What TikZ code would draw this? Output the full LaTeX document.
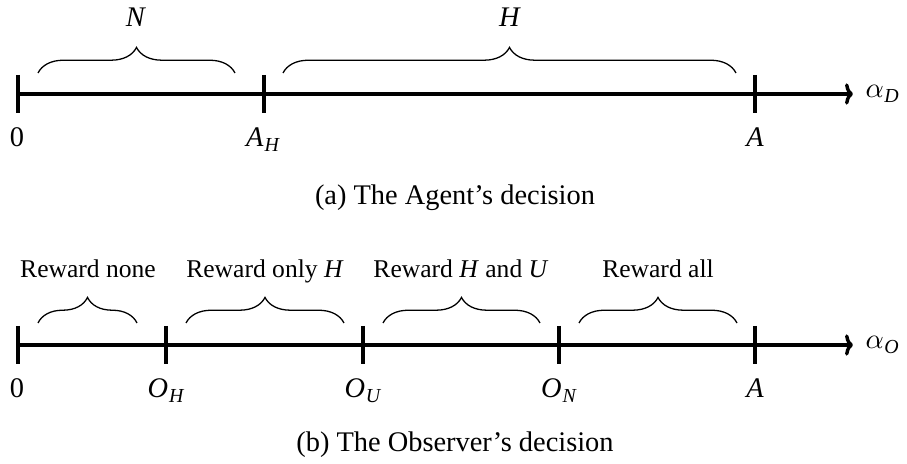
\documentclass[tikz,border=0pt]{standalone}
\usepackage{fontspec}
\setmainfont{Liberation Serif}
\usetikzlibrary{decorations.pathreplacing,arrows.meta}
\newcommand\mvar[2]{\textit{#1}\kern0.3pt\raisebox{-1.7pt}{\scriptsize\textit{#2}}}
\newcommand\avar[1]{$\alpha$\kern0.2pt\raisebox{-1.7pt}{\scriptsize\textit{#1}}}
\begin{document}
\begin{tikzpicture}[x=0.3521pt,y=-0.3521pt,
  axisline/.style={line width=1.2pt,-{To[length=2.8pt,width=7.5pt]}},
  tickline/.style={line width=1.2pt},
  brc/.style={decorate,decoration={brace,amplitude=9pt},line width=0.45pt},
  lab/.style={anchor=base,inner sep=0pt},
  small/.style={anchor=base,inner sep=0pt,font=\small},
  axlab/.style={anchor=base west,inner sep=0pt}]
\useasboundingbox (0,0) rectangle (907,464);
% ---------- (a) ----------
\coordinate (a0) at (18,94);
\coordinate (aend) at (853,94);
\draw[axisline] (a0) -- (aend);
\node[axlab] (alphaD) at (865,98) {\avar{D}};
\foreach \n/\x in {a0t/18,aAHt/264,aAt/755}{
  \coordinate (\n top) at (\x,75);
  \coordinate (\n bot) at (\x,113);
  \draw[tickline] (\n top) -- (\n bot);
}
\node[lab] (l0a) at (17,147) {0};
\node[lab] (lAH) at (263,147) {\mvar{A}{H}};
\node[lab] (lAa) at (755,147) {\textit{A}};
\coordinate (bN1) at (38,73);  \coordinate (bN2) at (235,73);
\coordinate (bH1) at (283,73); \coordinate (bH2) at (736,73);
\draw[brc] (bN1) -- (bN2);
\draw[brc] (bH1) -- (bH2);
\node[lab] (N) at (136,27) {\textit{N}};
\node[lab] (H) at (510,27) {\textit{H}};
\node[lab] (capa) at (455,205) {(a) The Agent’s decision};
% ---------- (b) ----------
\coordinate (b0) at (18,345);
\coordinate (bend) at (853,345);
\draw[axisline] (b0) -- (bend);
\node[axlab] (alphaO) at (865,349) {\avar{O}};
\foreach \n/\x in {b0t/18,bOHt/166,bOUt/363,bONt/559,bAt/755}{
  \coordinate (\n top) at (\x,326);
  \coordinate (\n bot) at (\x,364);
  \draw[tickline] (\n top) -- (\n bot);
}
\node[lab] (l0b) at (17,398) {0};
\node[lab] (lOH) at (166,398) {\mvar{O}{H}};
\node[lab] (lOU) at (363,398) {\mvar{O}{U}};
\node[lab] (lON) at (559,398) {\mvar{O}{N}};
\node[lab] (lAb) at (755,398) {\textit{A}};
\coordinate (r11) at (38,323);  \coordinate (r12) at (137,323);
\coordinate (r21) at (186,323); \coordinate (r22) at (344,323);
\coordinate (r31) at (383,323); \coordinate (r32) at (540,323);
\coordinate (r41) at (579,323); \coordinate (r42) at (737,323);
\draw[brc] (r11) -- (r12);
\draw[brc] (r21) -- (r22);
\draw[brc] (r31) -- (r32);
\draw[brc] (r41) -- (r42);
\node[small] (rn) at (88,278) {Reward none};
\node[small] (ro) at (265,278) {Reward only \textit{H}};
\node[small] (rh) at (461,278) {Reward \textit{H} and \textit{U}};
\node[small] (ra) at (658,278) {Reward all};
\node[lab] (capb) at (455,452) {(b) The Observer’s decision};
\end{tikzpicture}
\end{document}
